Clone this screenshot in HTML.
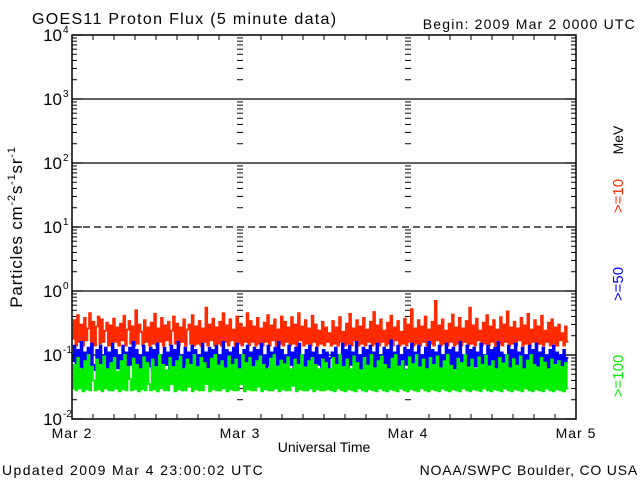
<!DOCTYPE html>
<html><head><meta charset="utf-8"><style>
html,body{margin:0;padding:0;background:#fff;}
svg{display:block;font-family:"Liberation Sans",sans-serif;}
</style></head><body>
<svg id="chart" width="640" height="480" viewBox="0 0 640 480" xmlns="http://www.w3.org/2000/svg">
<rect width="640" height="480" fill="#fff"/>
<text x="32" y="24" font-size="16" letter-spacing="1.3">GOES11 Proton Flux (5 minute data)</text>
<text x="636" y="29" font-size="14" letter-spacing="1.2" text-anchor="end">Begin: 2009 Mar 2 0000 UTC</text>
<text transform="translate(22,227) rotate(-90)" font-size="17" letter-spacing="0.8" text-anchor="middle">Particles cm<tspan font-size="11" dy="-7">-2</tspan><tspan dy="7">s</tspan><tspan font-size="11" dy="-7">-1</tspan><tspan dy="7">sr</tspan><tspan font-size="11" dy="-7">-1</tspan></text>
<text x="324" y="452" font-size="14" text-anchor="middle">Universal Time</text>
<text x="2" y="475" font-size="14" letter-spacing="1.4">Updated 2009 Mar  4 23:00:02 UTC</text>
<text x="638" y="475" font-size="14" letter-spacing="0.8" text-anchor="end">NOAA/SWPC Boulder, CO USA</text>
<text transform="translate(623,140) rotate(-90)" font-size="14" text-anchor="middle">MeV</text>
<text transform="translate(623,196) rotate(-90)" font-size="15" fill="#ff2a00" text-anchor="middle">&gt;=10</text>
<text transform="translate(623,284) rotate(-90)" font-size="15" fill="#0000ff" text-anchor="middle">&gt;=50</text>
<text transform="translate(623,376) rotate(-90)" font-size="15" fill="#00ee00" text-anchor="middle">&gt;=100</text>
<g id="axes"></g>
<g id="series"></g>
<rect x="72" y="35" width="504" height="384" fill="none" stroke="#000" stroke-width="1.5"/>
</svg>
<script>
const dayLabels = ["Mar 2","Mar 3","Mar 4","Mar 5"];
const decadeExps = [-2,-1,0,1,2,3,4];
const gridSolid = [-1,0,2,3];
const gridDashed = [1];
const redFlux = [0.18,0.35,0.14,0.42,0.16,0.3,0.14,0.38,0.17,0.26,0.45,0.15,0.33,0.14,0.28,0.4,0.15,0.36,0.16,0.24,0.32,0.14,0.29,0.14,0.37,0.16,0.27,0.14,0.31,0.17,0.41,0.14,0.25,0.34,0.15,0.28,0.14,0.5,0.15,0.3,0.23,0.14,0.35,0.16,0.27,0.14,0.32,0.15,0.44,0.14,0.26,0.16,0.38,0.14,0.29,0.17,0.33,0.14,0.24,0.4,0.15,0.31,0.14,0.27,0.16,0.36,0.14,0.25,0.3,0.15,0.42,0.14,0.28,0.15,0.34,0.14,0.26,0.16,0.55,0.14,0.3,0.17,0.37,0.14,0.27,0.15,0.33,0.14,0.45,0.16,0.29,0.14,0.36,0.17,0.25,0.14,0.4,0.15,0.31,0.14,0.27,0.16,0.45,0.14,0.34,0.16,0.28,0.14,0.38,0.15,0.26,0.14,0.32,0.16,0.42,0.14,0.29,0.17,0.36,0.14,0.25,0.15,0.4,0.14,0.33,0.16,0.27,0.14,0.39,0.15,0.3,0.14,0.45,0.17,0.28,0.14,0.35,0.15,0.26,0.14,0.41,0.16,0.3,0.14,0.24,0.15,0.33,0.14,0.27,0.16,
0.22,0.14,0.34,0.15,0.27,0.14,0.39,0.16,0.23,0.14,0.31,0.15,0.44,0.14,0.26,0.17,0.35,0.14,0.28,0.15,0.38,0.14,0.25,0.16,0.33,0.14,0.47,0.15,0.29,0.14,0.36,0.16,0.24,0.14,0.32,0.15,0.41,0.14,0.27,0.17,0.34,0.14,0.23,0.15,0.37,0.14,0.3,0.16,0.52,0.14,0.26,0.15,0.35,0.14,0.28,0.16,0.4,0.14,0.25,0.15,0.33,0.14,0.7,0.17,0.29,0.14,0.36,0.15,0.24,0.14,0.31,0.16,0.43,0.14,0.27,0.15,0.38,0.14,0.26,0.16,0.34,0.14,0.55,0.15,0.29,0.14,0.37,0.17,0.24,0.14,0.32,0.15,0.42,0.14,0.28,0.16,0.35,0.14,0.25,0.15,0.39,0.14,0.3,0.16,0.48,0.14,0.27,0.15,0.33,0.14,0.26,0.17,0.38,0.14,0.29,0.15,0.44,0.14,0.25,0.16,0.35,0.14,0.28,0.15,0.41,0.14,0.24,0.16,0.32,0.14,0.36,0.15,0.27,0.14,0.3,0.17,0.22,0.14,0.28,0.16];
const blueFlux = [0.08,0.14,0.06,0.12,0.065,0.16,0.058,0.11,0.062,0.13,0.058,0.15,0.07,0.058,0.12,0.062,0.14,0.058,0.1,0.13,0.058,0.11,0.065,0.15,0.058,0.12,0.062,0.1,0.058,0.14,0.065,0.11,0.058,0.13,0.07,0.16,0.058,0.12,0.062,0.1,0.058,0.14,0.058,0.11,0.066,0.13,0.058,0.12,0.06,0.15,0.062,0.1,0.058,0.13,0.07,0.11,0.058,0.14,0.062,0.12,0.058,0.16,0.065,0.1,0.058,0.13,0.07,0.11,0.058,0.14,0.062,0.12,0.058,0.1,0.068,0.15,0.058,0.11,0.064,0.13,0.058,0.12,0.062,0.14,0.058,0.1,0.07,0.16,0.058,0.12,0.062,0.11,0.058,0.13,0.066,0.15,0.058,0.1,0.062,0.12,0.058,0.14,0.065,0.11,0.058,0.13,0.07,0.12,0.058,0.15,0.062,0.1,0.058,0.14,0.068,0.11,0.058,0.13,0.062,0.16,0.058,0.12,0.065,0.1,0.058,0.14,0.07,0.11,0.058,0.13,0.062,0.15,0.058,0.1,0.066,0.12,0.058,0.14,0.062,0.11,0.058,0.13,0.07,0.1,0.058,0.12,0.062,0.11,0.058,0.09,
0.11,0.058,0.13,0.064,0.1,0.058,0.15,0.062,0.12,0.058,0.14,0.07,0.11,0.058,0.16,0.062,0.1,0.058,0.13,0.066,0.12,0.058,0.14,0.062,0.11,0.058,0.15,0.07,0.1,0.058,0.13,0.062,0.12,0.058,0.17,0.065,0.11,0.058,0.14,0.062,0.1,0.058,0.13,0.07,0.12,0.058,0.15,0.062,0.11,0.058,0.14,0.066,0.1,0.058,0.13,0.062,0.16,0.058,0.12,0.07,0.11,0.058,0.14,0.062,0.1,0.058,0.15,0.065,0.12,0.058,0.13,0.062,0.11,0.058,0.16,0.07,0.1,0.058,0.14,0.062,0.12,0.058,0.13,0.066,0.11,0.058,0.15,0.062,0.1,0.058,0.14,0.07,0.12,0.058,0.13,0.062,0.16,0.058,0.11,0.065,0.1,0.058,0.14,0.062,0.12,0.058,0.15,0.07,0.11,0.058,0.13,0.062,0.1,0.058,0.14,0.066,0.12,0.058,0.15,0.062,0.11,0.058,0.13,0.07,0.1,0.058,0.12,0.062,0.14,0.058,0.11,0.065,0.1,0.058,0.12,0.062,0.09];
const greenFlux = [0.03,0.07,0.028,0.09,0.03,0.06,0.027,0.08,0.029,0.1,0.028,0.065,0.04,0.028,0.085,0.029,0.07,0.027,0.095,0.03,0.06,0.028,0.075,0.028,0.09,0.03,0.055,0.027,0.08,0.029,0.1,0.028,0.065,0.042,0.028,0.088,0.029,0.07,0.027,0.06,0.029,0.092,0.028,0.075,0.035,0.028,0.085,0.029,0.065,0.027,0.1,0.03,0.07,0.028,0.058,0.028,0.09,0.035,0.065,0.027,0.08,0.029,0.095,0.028,0.06,0.028,0.085,0.032,0.07,0.027,0.1,0.029,0.065,0.028,0.09,0.028,0.075,0.035,0.06,0.027,0.088,0.029,0.1,0.028,0.068,0.028,0.08,0.03,0.062,0.027,0.095,0.029,0.07,0.028,0.085,0.028,0.06,0.035,0.1,0.027,0.075,0.029,0.09,0.028,0.065,0.028,0.08,0.032,0.095,0.027,0.07,0.029,0.06,0.028,0.088,0.028,0.1,0.03,0.066,0.027,0.082,0.029,0.072,0.028,0.092,0.028,0.06,0.033,0.085,0.027,0.07,0.029,0.1,0.028,0.064,0.028,0.08,0.03,0.09,0.027,0.07,0.029,0.06,0.028,0.085,0.028,0.075,0.029,
0.06,0.028,0.09,0.027,0.07,0.03,0.1,0.028,0.065,0.027,0.085,0.029,0.06,0.028,0.095,0.027,0.075,0.03,0.058,0.028,0.09,0.027,0.068,0.029,0.1,0.028,0.062,0.027,0.08,0.03,0.095,0.028,0.07,0.027,0.06,0.029,0.088,0.028,0.1,0.027,0.066,0.03,0.08,0.028,0.058,0.027,0.092,0.029,0.072,0.028,0.1,0.027,0.064,0.03,0.085,0.028,0.06,0.027,0.09,0.029,0.07,0.028,0.095,0.027,0.062,0.03,0.08,0.028,0.1,0.027,0.068,0.029,0.058,0.028,0.088,0.027,0.075,0.03,0.1,0.028,0.064,0.027,0.085,0.029,0.06,0.028,0.092,0.027,0.07,0.03,0.098,0.028,0.066,0.027,0.08,0.029,0.06,0.028,0.09,0.027,0.074,0.03,0.1,0.028,0.062,0.027,0.086,0.029,0.068,0.028,0.095,0.027,0.06,0.03,0.082,0.028,0.1,0.027,0.07,0.029,0.064,0.028,0.09,0.027,0.076,0.03,0.06,0.028,0.085,0.027,0.07,0.029,0.08,0.028,0.065,0.027,0.075,0.03];
const dataSpanDays = 2.955;

const NS = "http://www.w3.org/2000/svg";
const X0 = 72, X1 = 576, Y0 = 35, Y1 = 419;
const xScale = d => X0 + d * (X1 - X0) / 3;
const yScale = v => Y1 - (Math.log10(v) + 2) * (Y1 - Y0) / 6;
const axes = document.getElementById('axes');
const series = document.getElementById('series');
function mk(tag, attrs, parent) {
  const e = document.createElementNS(NS, tag);
  for (const k in attrs) e.setAttribute(k, attrs[k]);
  parent.appendChild(e);
  return e;
}
gridSolid.forEach(p => {
  const l = mk('line', {x1: X0, x2: X1, y1: yScale(Math.pow(10, p)), y2: yScale(Math.pow(10, p)), stroke: '#000', 'stroke-width': 1.3}, axes);
  
  
});
gridDashed.forEach(p => {
  const l = mk('line', {x1: X0, x2: X1, y1: yScale(Math.pow(10, p)), y2: yScale(Math.pow(10, p)), stroke: '#000', 'stroke-width': 1.3, 'stroke-dasharray': '7,4'}, axes);
  
  
});
decadeExps.forEach(p => {
  const y = yScale(Math.pow(10, p));
  const t = mk('text', {x: 62, y: y + 6, 'font-size': 17, 'text-anchor': 'end'}, axes);
  
  
  t.textContent = '10';
  const s = mk('text', {x: 63, y: y - 2, 'font-size': 10}, axes);
  
  
  s.textContent = p < 0 ? '-' + (-p) : String(p);
  [X0, X1 - 10].forEach(x => {
    const m = mk('line', {x1: x, x2: x + 10, y1: y, y2: y, stroke: '#000', 'stroke-width': 1.2}, axes);
    
    
  });
  if (p < 4) {
    for (let k = 2; k <= 9; k++) {
      const yy = yScale(k * Math.pow(10, p));
      [[X0, X0 + 5], [X1 - 5, X1], [xScale(1) - 3, xScale(1) + 3], [xScale(2) - 3, xScale(2) + 3]].forEach(r => {
        const m = mk('line', {x1: r[0], x2: r[1], y1: yy, y2: yy, stroke: '#000', 'stroke-width': 1}, axes);
        
        
      });
    }
  }
});
dayLabels.forEach((lab, i) => {
  const x = xScale(i);
  const t = mk('text', {x: x, y: 438, 'font-size': 14, 'letter-spacing': 1, 'text-anchor': 'middle'}, axes);
  
  
  t.textContent = lab;
});
for (let h = 1; h < 24; h++) {
  const x = xScale(h / 8);
  const big = h % 8 === 0;
  [[Y0, Y0 + (big ? 0 : 5)], [Y1 - (big ? 0 : 5), Y1]].forEach(r => {
    const m = mk('line', {x1: x, x2: x, y1: r[0], y2: r[1], stroke: '#000', 'stroke-width': 1}, axes);
    
    
  });
}
[[redFlux, '#ff2a00', 'series-ge10-mev'], [blueFlux, '#0000ff', 'series-ge50-mev'], [greenFlux, '#00ee00', 'series-ge100-mev']].forEach(([arr, col, name]) => {
  let pts = [];
  const n = arr.length;
  arr.forEach((v, i) => {
    const xa = xScale(i / n * dataSpanDays), xb = xScale((i + 1) / n * dataSpanDays), y = yScale(v);
    pts.push(xa.toFixed(1) + ',' + y.toFixed(1), xb.toFixed(1) + ',' + y.toFixed(1));
  });
  const pl = mk('polyline', {points: pts.join(' '), fill: 'none', stroke: col, 'stroke-width': 1.8}, series);
  
  
});
</script>
</body></html>
